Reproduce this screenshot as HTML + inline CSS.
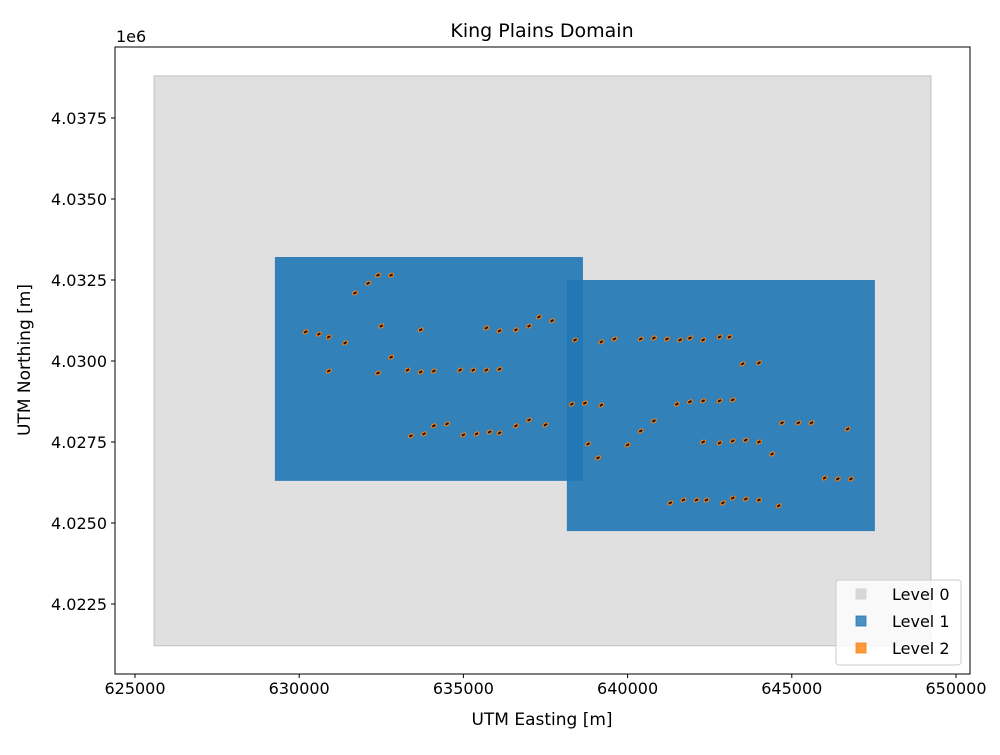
<!DOCTYPE html>
<html><head><meta charset="utf-8"><style>
body{margin:0;background:#fff;font-family:"Liberation Sans","DejaVu Sans",sans-serif}
svg text{font-family:"DejaVu Sans","Liberation Sans",sans-serif;font-size:16px;fill:#000}
</style></head><body>
<svg id="c" width="1000" height="750"></svg>
<script>
const eastings=[631700,632100,632400,632800,630200,630600,630900,631400,632500,633700,632800,630900,632400,633300,633700,634100,634900,635300,635700,636100,635700,636100,636600,637000,637300,637700,638400,639200,639600,640400,640800,641200,641600,641900,642300,642800,643100,643500,644000,638300,638700,639200,633400,633800,634100,634500,635000,635400,635800,636100,636600,637000,637500,638800,639100,640000,640400,640800,641500,641900,642300,642800,643200,642300,642800,643200,643600,644000,644400,644700,645200,645600,646700,646000,646400,646800,641300,641700,642100,642400,642900,643200,643600,644000,644600];
const northings=[4032100,4032400,4032650,4032650,4030900,4030830,4030740,4030560,4031080,4030960,4030120,4029690,4029630,4029720,4029660,4029690,4029720,4029720,4029720,4029750,4031020,4030930,4030960,4031080,4031360,4031240,4030650,4030590,4030680,4030680,4030710,4030680,4030650,4030710,4030650,4030740,4030740,4029910,4029940,4028670,4028700,4028640,4027690,4027750,4028000,4028060,4027720,4027750,4027810,4027780,4028000,4028180,4028030,4027440,4027010,4027410,4027840,4028150,4028670,4028740,4028770,4028770,4028800,4027500,4027470,4027530,4027560,4027500,4027130,4028090,4028090,4028090,4027900,4026390,4026360,4026360,4025620,4025710,4025710,4025710,4025620,4025770,4025740,4025710,4025530];
const domainNames=["level-0-domain","level-1-domain-a","level-1-domain-b"];
const domainE0=[625580,629260,638150];
const domainE1=[649240,638640,647530];
const domainN0=[4021210,4026300,4024750];
const domainN1=[4038800,4033210,4032500];
const xTicks=[625000,630000,635000,640000,645000,650000];
const yTicks=[4022500,4025000,4027500,4030000,4032500,4035000,4037500];
const L=115,R=970,T=47,B=674;
const sx=v=>135+(v-625000)*821/25000;
const sy=v=>118+(4037500-v)*486/15000;
const s=document.getElementById('c');const NS='http://www.w3.org/2000/svg';
function mk(t,a,p){const e=document.createElementNS(NS,t);for(const k in a)e.setAttribute(k,a[k]);(p||s).appendChild(e);return e;}
const cols=['rgba(211,211,211,0.7)','rgba(31,119,180,0.9)','rgba(31,119,180,0.9)'];
const strokes=['rgba(150,150,150,0.5)','none','none'];
for(let i=0;i<domainNames.length;i++){
 const r=mk('rect',{x:sx(domainE0[i]),y:sy(domainN1[i]),width:sx(domainE1[i])-sx(domainE0[i]),height:sy(domainN0[i])-sy(domainN1[i]),fill:cols[i],stroke:strokes[i]});
 
 
}
for(let i=0;i<eastings.length;i++){
 const g=mk('g',{transform:`translate(${sx(eastings[i])},${sy(northings[i])}) rotate(-30)`});
 
 
 mk('ellipse',{cx:0,cy:0,rx:3.2,ry:2.2,fill:'#ff7f0e'},g);
 mk('rect',{x:-1.8,y:-1,width:3.6,height:2,fill:'#111'},g);
}
mk('rect',{x:L,y:T,width:R-L,height:B-T,fill:'none',stroke:'#000','stroke-width':1});
for(const v of xTicks){const x=sx(v);mk('line',{x1:x,x2:x,y1:B,y2:B+4,stroke:'#000'});const t=mk('text',{x:x,y:B+20,'text-anchor':'middle'});t.textContent=v;}
for(const v of yTicks){const y=sy(v);mk('line',{x1:L-4,x2:L,y1:y,y2:y,stroke:'#000'});const t=mk('text',{x:L-8,y:y+6,'text-anchor':'end'});t.textContent=(v/1e6).toFixed(4);}
let t=mk('text',{x:116,y:42});t.textContent='1e6';
t=mk('text',{x:542,y:37,'text-anchor':'middle',style:'font-size:19px'});t.textContent='King Plains Domain';
t=mk('text',{x:542,y:725,'text-anchor':'middle',style:'font-size:17px'});t.textContent='UTM Easting [m]';
t=mk('text',{x:30,y:360,'text-anchor':'middle',transform:'rotate(-90 30 360)',style:'font-size:17px'});t.textContent='UTM Northing [m]';
const lg=mk('g',{});
mk('rect',{x:836,y:580,width:125,height:85,rx:3,fill:'rgba(255,255,255,0.8)',stroke:'#ccc'},lg);
const ln=['Level 0','Level 1','Level 2'],lc=['rgba(211,211,211,0.9)','rgba(31,119,180,0.8)','rgba(255,127,14,0.8)'];
for(let i=0;i<3;i++){const y=594+i*27;const e=mk('g',{},lg);
 mk('rect',{x:856,y:y-5,width:10,height:10,fill:lc[i],stroke:lc[i]},e);const tt=mk('text',{x:892,y:y+6},e);tt.textContent=ln[i];}
</script>
</body></html>
